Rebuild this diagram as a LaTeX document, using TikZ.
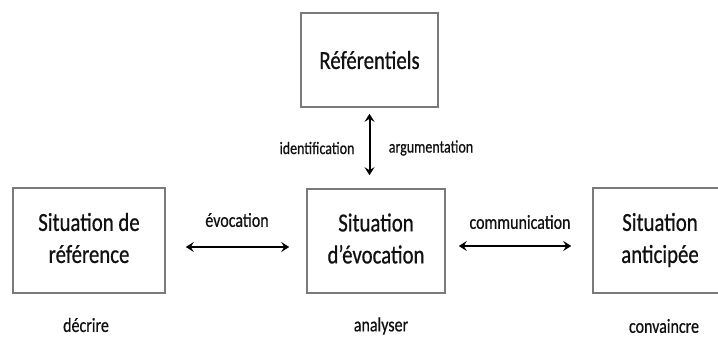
\documentclass[tikz,border=0pt]{standalone}
\usepackage{fontspec}
\setmainfont{Carlito}[FakeBold=0.7]
\usetikzlibrary{arrows.meta}
\newcommand\sqz[1]{\scalebox{0.8}[1]{#1}}
\newcommand\twolines[2]{\sqz{\begin{tabular}{@{}c@{}}#1\\#2\end{tabular}}}
\definecolor{boxgray}{HTML}{7A7A7A}
\definecolor{ink}{HTML}{111111}
\begin{document}
\begin{tikzpicture}[x=1pt,y=-1pt,
  box/.style={draw=boxgray, line width=1.6pt, inner sep=0pt, text=ink,
    font=\fontsize{26}{32}\selectfont},
  lbl/.style={inner sep=0pt, text=ink, font=\fontsize{20}{24}\selectfont},
  slbl/.style={inner sep=0pt, text=ink, font=\fontsize{17.5}{21}\selectfont},
  arr/.style={line width=2pt, black, {Stealth[length=8pt,width=10pt,inset=3pt]}-{Stealth[length=8pt,width=10pt,inset=3pt]}}]
\clip (0,0) rectangle (718,337);
\fill[white] (0,0) rectangle (718,337);
% boxes
\node[box, minimum width=137pt, minimum height=94pt] (ref) at (369.5,60) {\sqz{Référentiels}};
\node[box, minimum width=152pt, minimum height=105pt] (sref) at (89,240.5) {\twolines{Situation de}{référence}};
\node[box, minimum width=138pt, minimum height=104pt] (sevo) at (376,241) {\twolines{Situation}{d’évocation}};
\node[box, minimum width=134pt, minimum height=105pt] (santi) at (660,240.5) {\twolines{Situation}{anticipée}};
% arrows
\coordinate (vt) at ([yshift=-6pt]ref.south);
\coordinate (vb) at ([yshift=13pt]ref.south |- sevo.north);
\draw[arr] (vt) -- (vb);
\coordinate (el) at ([xshift=20pt,yshift=-6.5pt]sref.east);
\coordinate (er) at ([xshift=-17pt]sevo.west |- el);
\draw[arr] (el) -- (er);
\coordinate (cl) at ([xshift=13pt,yshift=-5pt]sevo.east);
\coordinate (cr) at ([xshift=-21pt]santi.west |- cl);
\draw[arr] (cl) -- (cr);
% labels
\node[slbl] (lid) at (317,148) {\sqz{identification}};
\node[slbl] (larg) at (431,148) {\sqz{argumentation}};
\node[lbl] (levo) at (237,220) {\sqz{évocation}};
\node[lbl] (lcom) at (520,222) {\sqz{communication}};
\node[lbl] (ldec) at (86,325) {\sqz{décrire}};
\node[lbl] (lana) at (381,326) {\sqz{analyser}};
\node[lbl] (lcon) at (664,326) {\sqz{convaincre}};
\end{tikzpicture}
\end{document}
